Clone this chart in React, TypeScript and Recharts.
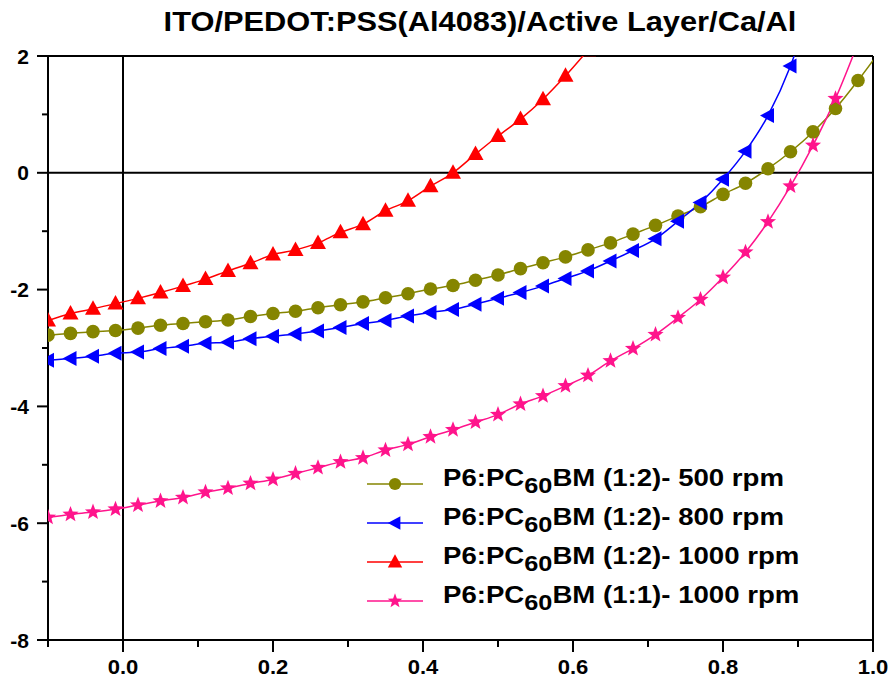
import { LineChart, Line, XAxis, YAxis, ReferenceLine, Legend } from 'recharts'

// sample voltages (V), every 0.03 V
const voltage = [
  -0.1, -0.07, -0.04, -0.01, 0.02, 0.05, 0.08, 0.11, 0.14, 0.17, 0.2, 0.23, 0.26,
  0.29, 0.32, 0.35, 0.38, 0.41, 0.44, 0.47, 0.5, 0.53, 0.56, 0.59, 0.62, 0.65,
  0.68, 0.71, 0.74, 0.77, 0.8, 0.83, 0.86, 0.89, 0.92, 0.95, 0.98, 1.01,
]

// current density (mA/cm2)
const rpm500 = [
  -2.78, -2.75, -2.72, -2.7, -2.66, -2.61, -2.58, -2.55, -2.52, -2.46, -2.41, -2.37,
  -2.31, -2.26, -2.21, -2.14, -2.07, -1.99, -1.93, -1.84, -1.75, -1.64, -1.54, -1.44,
  -1.32, -1.2, -1.05, -0.9, -0.74, -0.58, -0.37, -0.18, 0.07, 0.36, 0.7, 1.1, 1.58, 2.1,
]
const rpm800 = [
  -3.21, -3.18, -3.14, -3.09, -3.07, -3.01, -2.97, -2.92, -2.9, -2.84, -2.8, -2.76,
  -2.71, -2.65, -2.58, -2.53, -2.45, -2.39, -2.34, -2.25, -2.15, -2.05, -1.94, -1.81,
  -1.68, -1.51, -1.33, -1.13, -0.83, -0.51, -0.11, 0.37, 0.98, 1.83, 3.0,
]
const rpm1000 = [
  -2.53, -2.41, -2.33, -2.24, -2.15, -2.05, -1.94, -1.82, -1.68, -1.55, -1.4, -1.32,
  -1.2, -1.02, -0.88, -0.65, -0.48, -0.23, 0.0, 0.32, 0.63, 0.92, 1.26, 1.66, 2.1,
]
const ratio11 = [
  -5.9, -5.85, -5.81, -5.76, -5.69, -5.62, -5.56, -5.47, -5.4, -5.32, -5.25, -5.15,
  -5.05, -4.95, -4.88, -4.75, -4.65, -4.52, -4.4, -4.27, -4.14, -3.96, -3.82, -3.65,
  -3.47, -3.22, -3.01, -2.77, -2.48, -2.17, -1.79, -1.36, -0.84, -0.23, 0.47, 1.27, 2.22,
]

const xTicks = [-0.1, 0, 0.1, 0.2, 0.3, 0.4, 0.5, 0.6, 0.7, 0.8, 0.9, 1.0]
const yTicks = [-8, -7, -6, -5, -4, -3, -2, -1, 0, 1, 2]

const title = 'ITO/PEDOT:PSS(Al4083)/Active Layer/Ca/Al'

type Shape = 'circle' | 'left' | 'up' | 'star'

const series: Array<{ key: string; color: string; shape: Shape; label: [string, string, string] }> = [
  { key: 'rpm500', color: '#858500', shape: 'circle', label: ['P6:PC', '60', 'BM (1:2)- 500 rpm'] },
  { key: 'rpm800', color: '#0000FF', shape: 'left', label: ['P6:PC', '60', 'BM (1:2)- 800 rpm'] },
  { key: 'rpm1000', color: '#FF0000', shape: 'up', label: ['P6:PC', '60', 'BM (1:2)- 1000 rpm'] },
  { key: 'ratio11', color: '#FF148C', shape: 'star', label: ['P6:PC', '60', 'BM (1:1)- 1000 rpm'] },
]

const data = voltage.map((v, i) => ({
  v,
  rpm500: rpm500[i] ?? null,
  rpm800: rpm800[i] ?? null,
  rpm1000: rpm1000[i] ?? null,
  ratio11: ratio11[i] ?? null,
}))

const FONT = '"Liberation Sans", Arial, sans-serif'

function starPath(cx: number, cy: number, ro: number, ri: number) {
  let d = ''
  for (let i = 0; i < 10; i++) {
    const r = i % 2 === 0 ? ro : ri
    const a = -Math.PI / 2 + (i * Math.PI) / 5
    d += (i === 0 ? 'M' : 'L') + (cx + r * Math.cos(a)).toFixed(2) + ',' + (cy + r * Math.sin(a)).toFixed(2)
  }
  return d + 'Z'
}

function Marker({ shape, cx, cy, color, scale = 1 }: { shape: Shape; cx: number; cy: number; color: string; scale?: number }) {
  const s = scale
  if (shape === 'circle') return <circle cx={cx} cy={cy} r={6.8 * s} fill={color} />
  if (shape === 'left')
    return <path d={`M${cx - 8 * s},${cy}L${cx + 6 * s},${cy - 7.5 * s}L${cx + 6 * s},${cy + 7.5 * s}Z`} fill={color} />
  if (shape === 'up')
    return <path d={`M${cx},${cy - 8.5 * s}L${cx - 8 * s},${cy + 6 * s}L${cx + 8 * s},${cy + 6 * s}Z`} fill={color} />
  return <path d={starPath(cx, cy, 8.5 * s, 3.6 * s)} fill={color} />
}

function XTick(props: any) {
  const { x, y, payload } = props
  const v = payload.value as number
  const major = Math.round(v * 10) % 2 === 0
  return (
    <g>
      <line x1={x} x2={x} y1={y} y2={y + (major ? 12 : 7)} stroke="#000" strokeWidth={2} />
      {major && (
        <text
          transform={`translate(${x},${y + 34}) scale(1.05,1)`}
          textAnchor="middle"
          fontFamily={FONT}
          fontWeight="bold"
          fontSize={21}
          fill="#000"
        >
          {v.toFixed(1)}
        </text>
      )}
    </g>
  )
}

function YTick(props: any) {
  const { x, y, payload } = props
  const v = payload.value as number
  const major = v % 2 === 0
  return (
    <g>
      <line x1={x - (major ? 11 : 6)} x2={x} y1={y} y2={y} stroke="#000" strokeWidth={2} />
      {major && (
        <text x={x - 19} y={y + 7.5} textAnchor="end" fontFamily={FONT} fontWeight="bold" fontSize={21} fill="#000">
          {v}
        </text>
      )}
    </g>
  )
}

function LegendBox() {
  return (
    <svg width={440} height={170} style={{ display: 'block' }}>
      {series.map((s, i) => {
        const ly = 34 + 39 * i
        return (
          <g key={s.key}>
            <line x1={5} x2={61} y1={ly} y2={ly} stroke={s.color} strokeWidth={1.5} />
            <Marker shape={s.shape} cx={33} cy={ly} color={s.color} scale={0.9} />
            <text
              transform={`translate(81,${ly + 2}) scale(1.15,1)`}
              fontFamily={FONT}
              fontWeight="bold"
              fontSize={24}
              fill="#000"
            >
              {s.label[0]}
              <tspan fontSize={22} dy={7}>{s.label[1]}</tspan>
              <tspan dy={-7}>{s.label[2]}</tspan>
            </text>
          </g>
        )
      })}
    </svg>
  )
}

export default function App() {
  return (
    <div style={{ position: 'absolute', left: 0, top: 0, width: 891, height: 679, background: '#fff' }}>
      <div
        style={{
          position: 'absolute',
          left: 0,
          width: 960,
          top: 8,
          textAlign: 'center',
          fontFamily: FONT,
          fontWeight: 'bold',
          fontSize: 28,
          lineHeight: '28px',
          transform: 'scaleX(1.1)',
          transformOrigin: '480px 0',
          color: '#000',
          whiteSpace: 'nowrap',
        }}
      >
        {title}
      </div>
      <LineChart width={891} height={679} data={data} margin={{ top: 56, right: 18, left: 0, bottom: 0 }}>
        <XAxis
          type="number"
          dataKey="v"
          domain={[-0.1, 1.0]}
          ticks={xTicks}
          allowDataOverflow
          height={39}
          tickSize={0}
          tickMargin={0}
          tickLine={false}
          axisLine={{ stroke: '#000', strokeWidth: 2 }}
          tick={<XTick />}
          interval={0}
        />
        <YAxis
          type="number"
          domain={[-8, 2]}
          ticks={yTicks}
          allowDataOverflow
          width={48}
          tickSize={0}
          tickMargin={0}
          tickLine={false}
          axisLine={{ stroke: '#000', strokeWidth: 2 }}
          tick={<YTick />}
          interval={0}
        />
        <ReferenceLine y={2} stroke="#000" strokeWidth={2} />
        <ReferenceLine x={1.0} stroke="#000" strokeWidth={2} />
        <ReferenceLine y={0} stroke="#000" strokeWidth={2} />
        <ReferenceLine x={0} stroke="#000" strokeWidth={2} />
        {series.map((s) => (
          <Line
            key={s.key}
            dataKey={s.key}
            type="monotone"
            stroke={s.color}
            strokeWidth={1.5}
            isAnimationActive={false}
            activeDot={false}
            dot={(p: any) =>
              p.cy == null || p.value == null ? (
                <g key={`${s.key}-${p.index}`} />
              ) : (
                <Marker key={`${s.key}-${p.index}`} shape={s.shape} cx={p.cx} cy={p.cy} color={s.color} />
              )
            }
          />
        ))}
        <Legend
          layout="vertical"
          align="center"
          verticalAlign="middle"
          wrapperStyle={{ left: 362, top: 450, width: 440 }}
          content={() => <LegendBox />}
        />
      </LineChart>
    </div>
  )
}
